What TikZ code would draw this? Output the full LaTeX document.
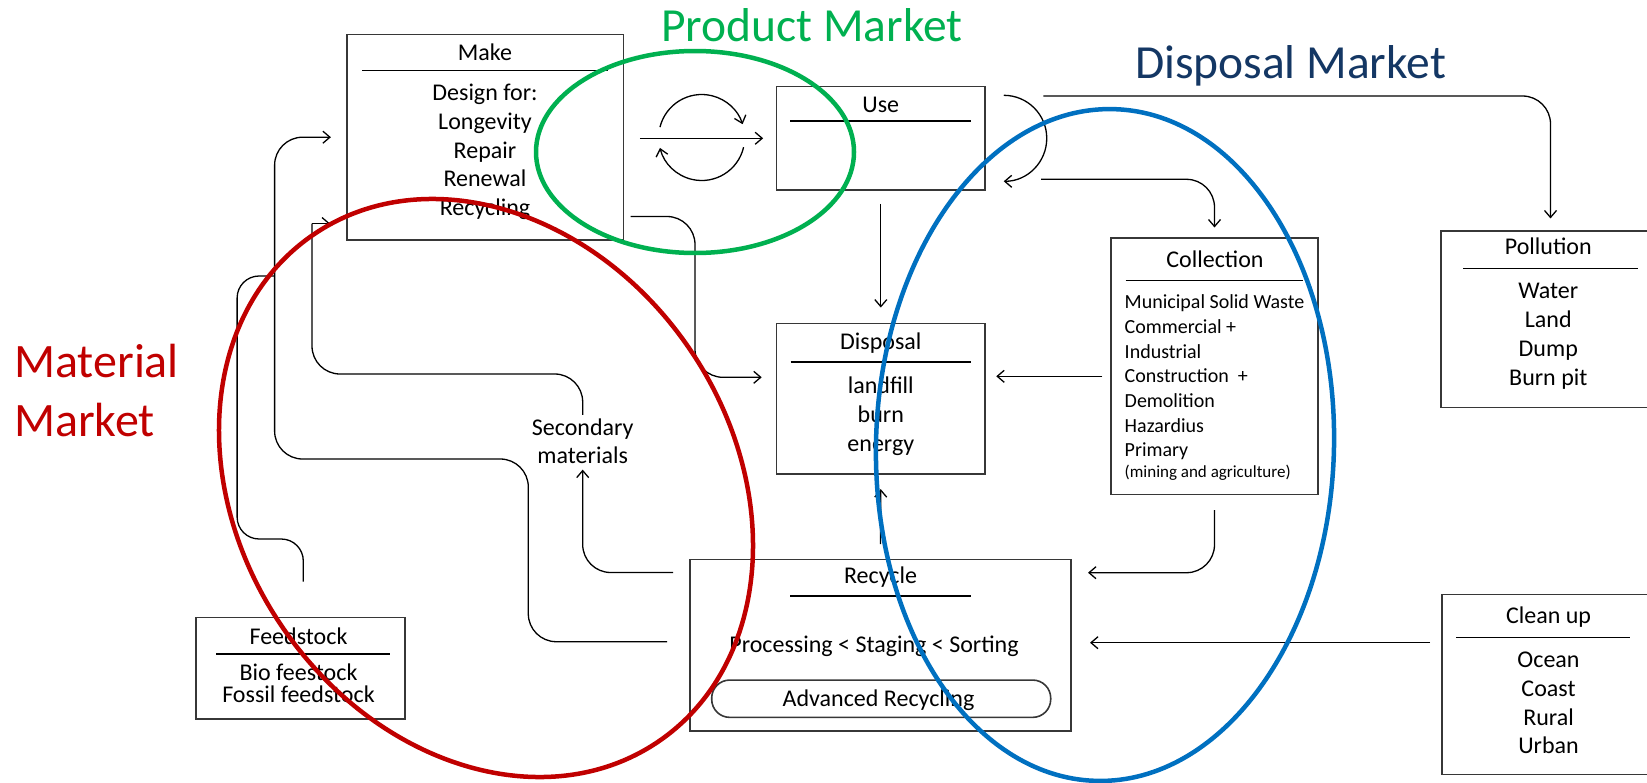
\documentclass[tikz,border=0pt]{standalone}
\usepackage{fontspec}
\setmainfont{Carlito}
\usetikzlibrary{arrows.meta,calc}

\definecolor{pmgreen}{RGB}{0,176,80}
\definecolor{mmred}{RGB}{192,0,0}
\definecolor{dmblue}{RGB}{0,112,192}
\definecolor{dmnavy}{RGB}{20,55,100}
\definecolor{boxline}{RGB}{55,55,55}

\begin{document}
\begin{tikzpicture}[x=1pt,y=-1pt,
    cbox/.style={draw=boxline,line width=1.6pt,inner sep=0pt},
    ctitle/.style={inner sep=0pt,font=\fontsize{24}{29}\selectfont,
      text height=15.4pt,text depth=0pt},
    citem/.style={ctitle},
    cleft/.style={inner sep=0pt,anchor=west,font=\fontsize{20}{24}\selectfont,
      text height=12.9pt,text depth=0pt},
    rule/.style={line width=1.4pt},
    link/.style={line width=1.3pt},
    conn/.style={link,-{Straight Barb[length=7pt,width=12pt]}},
    elbow/.style={conn,rounded corners=28pt},
    ring/.style={line width=4.5pt},
    market/.style={inner sep=0pt,font=\fontsize{47.5}{58}\selectfont,
      text height=30.6pt,text depth=0pt}]
    \useasboundingbox (0,0) rectangle (1647,782);
    \clip (0,0) rectangle (1647,782);

    % Boxes
    \node[cbox,minimum width=276.6pt,minimum height=205.7pt] (make) at (485,137.2) {};
    \node[cbox,minimum width=208.3pt,minimum height=103.3pt] (use) at (880.8,138.3) {};
    \node[cbox,minimum width=208.3pt,minimum height=150.7pt] (disposal) at (880.8,398.7) {};
    \node[cbox,minimum width=381pt,minimum height=171.4pt] (recycle) at (880.5,645) {};
    \node[cbox,minimum width=207pt,minimum height=256.6pt] (collection) at (1214.5,366) {};
    \node[cbox,minimum width=219pt,minimum height=176.5pt] (pollution) at (1550.5,319.2) {};
    \node[cbox,minimum width=218pt,minimum height=180pt] (cleanup) at (1551,684.3) {};
    \node[cbox,minimum width=209pt,minimum height=101.4pt] (feedstock) at (300.5,668) {};
    \node[cbox,rounded corners=18pt,minimum width=339pt,minimum height=37.3pt]
      (advrec) at (881.2,698.7) {};

    % Make
    \node[ctitle] (make-t) at (485,53) {Make};
    \draw[rule] (362,70.7) -- (608,70.7);
    \foreach \w [count=\i] in {Design for:,Longevity,Repair,Renewal,Recycling}
      \node[citem] (make-\i) at (485,{64.25+28.75*\i}) {\w};

    % Use
    \node[ctitle] (use-t) at (880.8,105) {Use};
    \draw[rule] (790,121) -- (971,121);

    % Disposal
    \node[ctitle] (disposal-t) at (880.8,341.7) {Disposal};
    \draw[rule] (790.7,362) -- (971,362);
    \foreach \w [count=\i] in {landfill,burn,energy}
      \node[citem] (disposal-\i) at (880.8,{357+29*\i}) {\w};

    % Recycle
    \node[ctitle] (recycle-t) at (880.5,576) {Recycle};
    \draw[rule] (790,596) -- (971,596);
    \node[citem] (recycle-1) at (874,644.3) {Processing < Staging < Sorting};
    \node[citem] (advrec-t) at (878.5,698.3) {Advanced Recycling};

    % Collection
    \node[ctitle] (collection-t) at (1215,260) {Collection};
    \draw[rule] (1125.6,280.3) -- (1303.4,280.3);
    \foreach \w [count=\i] in {Municipal Solid Waste,Commercial +,Industrial,
        Construction~~+,Demolition,Hazardius,Primary}
      \node[cleft] (collection-\i) at (1124.5,{277.6+24.7*\i}) {\w};
    \node[cleft,font=\fontsize{17}{20}\selectfont,text height=11pt]
      (collection-8) at (1124.5,472.3) {(mining and agriculture)};

    % Pollution
    \node[ctitle] (pollution-t) at (1548.3,246.7) {Pollution};
    \draw[rule] (1463,268.3) -- (1637.7,268.3);
    \foreach \w [count=\i] in {Water,Land,Dump,Burn pit}
      \node[citem] (pollution-\i) at (1548.3,{261.8+28.9*\i}) {\w};

    % Clean up
    \node[ctitle] (cleanup-t) at (1548.5,616) {Clean up};
    \draw[rule] (1456.3,637.3) -- (1630.3,637.3);
    \foreach \w [count=\i] in {Ocean,Coast,Rural,Urban}
      \node[citem] (cleanup-\i) at (1548.5,{631.3+28.7*\i}) {\w};

    % Feedstock
    \node[ctitle] (feedstock-t) at (298.5,636.7) {Feedstock};
    \draw[rule] (216,654) -- (390,654);
    \node[citem] (feedstock-1) at (298.5,672.3) {Bio feestock};
    \node[citem] (feedstock-2) at (298.5,695) {Fossil feedstock};

    % Secondary materials
    \node[inner sep=0pt,align=center,font=\fontsize{24}{28}\selectfont]
      (secmat) at (582.7,441) {Secondary\\materials};

    % Market names
    \node[market,text=pmgreen] (pm) at (812,26.2) {Product Market};
    \node[market,text=dmnavy] (dm) at (1290.5,63) {Disposal Market};
    \node[inner sep=0pt,anchor=base west,text=mmred,font=\fontsize{48}{58}\selectfont]
      (mm1) at (14,377.3) {Material};
    \node[inner sep=0pt,anchor=base west,text=mmred,font=\fontsize{48}{58}\selectfont]
      (mm2) at (14,436) {Market};

    % Product market flows
    \draw[conn,shorten <=15.7pt,shorten >=12.7pt] (make.east |- use.west) -- (use.west);
    \coordinate (cyc) at (701.7,137.5);
    \draw[conn] ([shift={(-166:43)}]cyc) arc[start angle=-166,end angle=-18,radius=43];
    \draw[conn] ([shift={(13:43)}]cyc) arc[start angle=13,end angle=166,radius=43];
    \draw[conn] ([xshift=18pt,yshift=43pt]use.east) arc[start angle=-90,end angle=90,radius=43];

    % Out of use
    \coordinate (u2p) at (1043.3,96);
    \draw[elbow,shorten >=11.7pt] (u2p) -| (pollution.north);
    \coordinate (u2c) at (1041,179.3);
    \draw[elbow,shorten >=9.4pt] (u2c) -| (collection.north);
    \draw[conn,shorten <=13pt,shorten >=15pt] (use.south) -- (disposal.north);

    % Disposal market flows
    \coordinate (c2d) at (1102.4,376.3);
    \draw[conn,shorten >=10.5pt] (c2d) -- (c2d -| disposal.east);
    \coordinate (c2r) at (1071,572.7);
    \draw[elbow,shorten <=15pt,shorten >=17pt] (collection.south) |- (c2r);
    \coordinate (cu2r) at (1071,642.7);
    \draw[conn,shorten <=11pt,shorten >=19pt] (cleanup.west |- cu2r) -- (cu2r);
    \draw[conn,shorten <=14.3pt,shorten >=14.3pt] (recycle.north) -- (disposal.south);

    % Make to disposal
    \coordinate (m2d) at (630.7,216.5);
    \coordinate (dispin) at (776.7,377.3);
    \draw[elbow,shorten >=15pt] (m2d) -| ([xshift=-81.7pt]dispin) -- (dispin);

    % Material market flows
    \coordinate (r2s) at (673,572.5);
    \draw[elbow,shorten >=6pt] (r2s) -| (secmat.south);
    \coordinate (makein) at (346.7,223.5);
    \coordinate (mkcorner) at (312,223.5);
    \draw[link,rounded corners=28pt,shorten <=3.6pt]
      (secmat.north) |- (312,374) -- (mkcorner);
    \draw[conn,shorten >=16.7pt] (mkcorner) -- (makein);
    \coordinate (r2m) at (667,641.7);
    \coordinate (loopA) at (528.3,459);
    \coordinate (loopB) at (274.6,137.2);
    \draw[elbow,shorten >=15pt] (r2m) -| (loopA) -| (loopB) -- (make.west);
    \coordinate (fjoin) at (274.6,276);
    \draw[link,rounded corners=22pt,shorten <=35pt]
      ([xshift=2.8pt]feedstock.north) |- (237.1,539) |- (fjoin);

    % Markets
    \draw[ring,pmgreen] (695,152) ellipse[x radius=159,y radius=101];
    \draw[ring,mmred,rotate around={-55.8:(486,488)}] (486,488)
      ellipse[x radius=306.6,y radius=246.6];
    \draw[ring,dmblue,rotate around={-1.5:(1105,445)}] (1105,445)
      ellipse[x radius=229,y radius=336];
\end{tikzpicture}
\end{document}
